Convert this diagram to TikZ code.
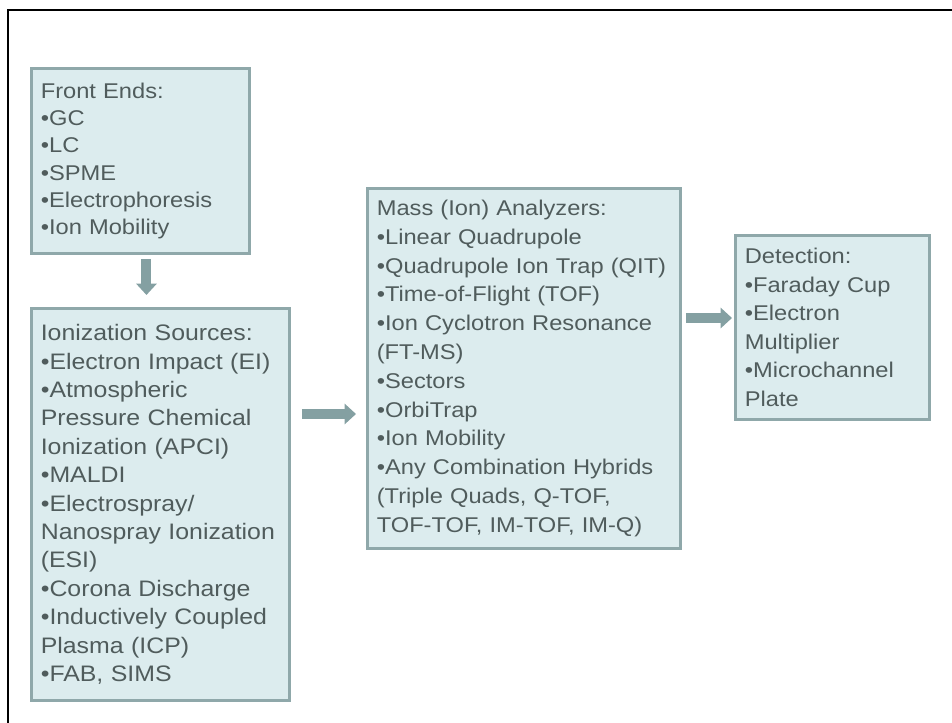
\documentclass[tikz,border=0pt]{standalone}
\usepackage{fontspec}
\setmainfont{Liberation Sans}[FakeStretch=1.11]
\usetikzlibrary{arrows.meta}

\definecolor{boxfill}{HTML}{DCECEE}
\definecolor{boxline}{HTML}{8FA8AA}
\definecolor{boxtext}{HTML}{505C5C}
\definecolor{arrowcol}{HTML}{84A0A2}

\begin{document}
\begin{tikzpicture}[x=0.75pt,y=-0.75pt,
stagebox/.style={draw=boxline,line width=2.2pt,fill=boxfill,text=boxtext,
  anchor=north west,align=left,inner xsep=7pt,inner ysep=0pt,
  font=\fontsize{16}{21.4}\selectfont},
flowarrow/.style={draw=arrowcol,line width=7.5pt,-{Triangle[width=15pt,length=8.5pt]}}]

\useasboundingbox (0,0) rectangle (952,723);
\draw[line width=1.6pt] (960,10) -- (8,10) -- (8,730);

\node[stagebox,text width=149.5pt,minimum width=163.5pt,minimum height=138.75pt,
  font=\fontsize{16}{20.4}\selectfont] (front) at (30,67)
  {Front Ends:\\ •GC\\ •LC\\ •SPME\\ •Electrophoresis\\ •Ion Mobility};

\node[stagebox,text width=179.5pt,minimum width=193.5pt,minimum height=294pt,
  font=\fontsize{16.8}{21.3}\selectfont] (ion) at (30,307)
  {Ionization Sources:\\ •Electron Impact (EI)\\ •Atmospheric\\ Pressure Chemical\\
   Ionization (APCI)\\ •MALDI\\ •Electrospray/\\ Nanospray Ionization\\ (ESI)\\
   •Corona Discharge\\ •Inductively Coupled\\ Plasma (ICP)\\ •FAB, SIMS};

\node[stagebox,text width=220.75pt,minimum width=234.75pt,minimum height=270pt,
  font=\fontsize{16}{21.6}\selectfont] (mass) at (366,187)
  {Mass (Ion) Analyzers:\\ •Linear Quadrupole\\ •Quadrupole Ion Trap (QIT)\\
   •Time-of-Flight (TOF)\\ •Ion Cyclotron Resonance\\ (FT-MS)\\ •Sectors\\ •OrbiTrap\\
   •Ion Mobility\\ •Any Combination Hybrids\\ (Triple Quads, Q-TOF,\\ TOF-TOF, IM-TOF, IM-Q)};

\node[stagebox,text width=131.5pt,minimum width=145.5pt,minimum height=138pt] (detect) at (734,234)
  {Detection:\\ •Faraday Cup\\ •Electron\\ Multiplier\\ •Microchannel\\ Plate};

% arrows between the stages
\draw[flowarrow,shorten <=3pt,shorten >=9pt] ([xshift=4.5pt]front.south) -- ([xshift=4.5pt]front.south |- ion.north);
\draw[flowarrow,shorten <=8.25pt,shorten >=7.5pt] (ion.east |- 0,414) -- (mass.west |- 0,414);
\draw[flowarrow,shorten <=3pt,shorten >=1.5pt] (mass.east |- 0,318) -- (detect.west |- 0,318);

\end{tikzpicture}
\end{document}
